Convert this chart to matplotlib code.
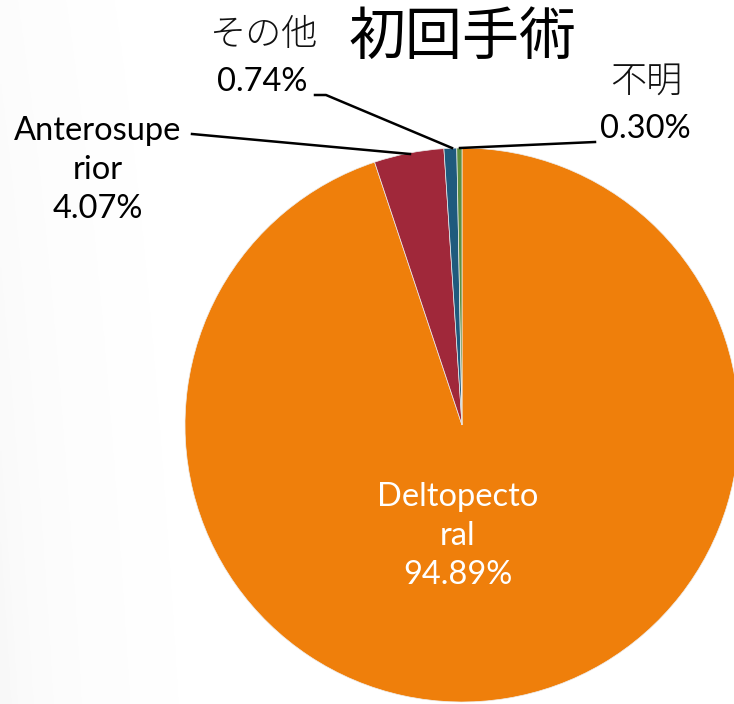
import matplotlib.pyplot as plt
import numpy as np

# data (clockwise from 12 o'clock)
names = ['Deltopectoral', 'Anterosuperior', 'その他', '不明']
shares = [94.89, 4.07, 0.74, 0.30]
colors = ['#EF7F0B', '#A0283A', '#1F5A7D', '#5E8F3E']
title = '初回手術'

plt.rcParams['font.family'] = ['Lato', 'Noto Sans CJK JP', 'DejaVu Sans']

W, H = 734, 704
fig = plt.figure(figsize=(W/100, H/100), dpi=100)
ax = fig.add_axes([0, 0, 1, 1])

# faint shadow at the left edge
gx = np.linspace(0, W, 300)
gy = np.linspace(0, H, 300)
GX, GY = np.meshgrid(gx, gy)
shade = 0.05 * np.exp(-GX / 70) * (0.4 + 0.6 * GY / H)
img = np.ones((300, 300, 4))
img[..., :3] = 0.45
img[..., 3] = shade
ax.imshow(img, extent=[0, W, H, 0], zorder=0, aspect='auto')

cx, cy, r = 462, 425, 277
# y axis inverted, so counterclock=True in data space looks clockwise on screen
wedges, _ = ax.pie(shares, colors=colors, startangle=-90, counterclock=True,
                   center=(cx, cy), radius=r, frame=True,
                   wedgeprops=dict(linewidth=0.5, edgecolor='#eeeeee'))
ax.set_xlim(0, W)
ax.set_ylim(H, 0)
ax.set_aspect('equal')
ax.axis('off')

ax.text(463, 38, title, fontsize=41, ha='center', va='center',
        family=['Noto Sans CJK JP'], fontweight='regular')

fs = 23.5
ls = 1.37
ax.text(458, 536, 'Deltopecto\nral\n%.2f%%' % shares[0], color='white',
        fontsize=fs, ha='center', va='center', linespacing=ls)
ax.text(98, 170, 'Anterosupe\nrior\n%.2f%%' % shares[1], color='black',
        fontsize=fs, ha='center', va='center', linespacing=ls)

# Japanese category names in a lighter weight, values below
ax.text(263, 35, names[2], color='#111111', fontsize=26, ha='center',
        va='center', family=['Noto Sans CJK JP'], fontweight='light')
ax.text(262, 82, '%.2f%%' % shares[2], color='black',
        fontsize=fs, ha='center', va='center')
ax.text(646, 81, names[3], color='#111111', fontsize=26, ha='center',
        va='center', family=['Noto Sans CJK JP'], fontweight='light')
ax.text(645, 129, '%.2f%%' % shares[3], color='black',
        fontsize=fs, ha='center', va='center')

# leader lines
ax.plot([192, 410], [134, 154], color='black', lw=1.8)
ax.plot([315, 326, 452], [95, 95, 148], color='black', lw=1.8)
ax.plot([595, 460], [142, 148], color='black', lw=1.8)

plt.savefig('out.png', dpi=100)
